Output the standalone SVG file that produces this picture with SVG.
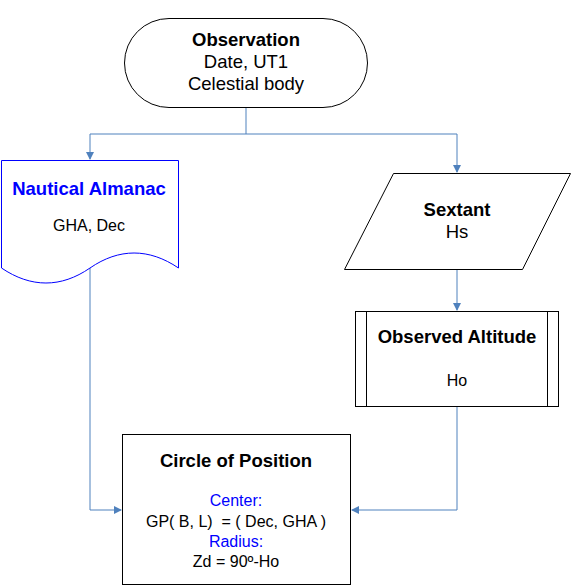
<svg xmlns="http://www.w3.org/2000/svg" width="571" height="586" viewBox="0 0 571 586">
<style>
text{font-family:"Liberation Sans",Arial,sans-serif;fill:#000;text-anchor:middle}
.b{font-weight:bold;font-size:18.5px}
.t{font-size:18.5px}
.s{font-size:16px}
.blue{fill:#0000ff}
.shape{fill:#fff;stroke:#000;stroke-width:1}
.conn{fill:none;stroke:#4f81bd;stroke-width:1}
</style>
<defs>
<marker id="ah" markerWidth="8" markerHeight="8" refX="7" refY="4" orient="auto" markerUnits="userSpaceOnUse">
<path d="M0,0 L8,4 L0,8 z" fill="#4f81bd"/>
</marker>
</defs>
<g id="connectors">
<path class="conn" d="M246,107 V134"/>
<path class="conn" d="M90,134 H457"/>
<path class="conn" d="M90,134 V159" marker-end="url(#ah)"/>
<path class="conn" d="M457,134 V172" marker-end="url(#ah)"/>
<path class="conn" d="M457,269 V310" marker-end="url(#ah)"/>
<path class="conn" d="M90,268 V510 H121" marker-end="url(#ah)"/>
<path class="conn" d="M457,406 V510 H352" marker-end="url(#ah)"/>
</g>
<g id="observation">
<rect class="shape" x="124.5" y="18.5" width="243" height="89" rx="44.5" ry="44.5"/>
<text class="b" x="246" y="46">Observation</text>
<text class="t" x="246" y="68">Date, UT1</text>
<text class="t" x="246" y="90">Celestial body</text>
</g>
<g id="almanac">
<path d="M1.5,160.5 H178.5 V268 C149,248 119,248 90,268 C61,288 31,288 1.5,268 Z" fill="#fff" stroke="#0000ff" stroke-width="1"/>
<text class="b blue" x="89" y="195">Nautical Almanac</text>
<text class="s" x="89" y="231">GHA, Dec</text>
</g>
<g id="sextant">
<path class="shape" d="M393.5,173.5 H570.5 L522.5,269.5 H344.5 Z"/>
<text class="b" x="457" y="216">Sextant</text>
<text class="t" x="457" y="238">Hs</text>
</g>
<g id="observed-altitude">
<rect class="shape" x="355.5" y="311.5" width="203" height="95"/>
<path class="shape" d="M366.5,311.5 V406.5 M547.5,311.5 V406.5"/>
<text class="b" x="457" y="343">Observed Altitude</text>
<text class="s" x="457" y="386">Ho</text>
</g>
<g id="circle-of-position">
<rect class="shape" x="122.5" y="434.5" width="228" height="150"/>
<text class="b" x="236" y="467">Circle of Position</text>
<text class="s blue" x="236" y="506">Center:</text>
<text class="s" x="236" y="527" xml:space="preserve">GP( B, L)  = ( Dec, GHA )</text>
<text class="s blue" x="236" y="547">Radius:</text>
<text class="s" x="236" y="567">Zd = 90º-Ho</text>
</g>
</svg>
